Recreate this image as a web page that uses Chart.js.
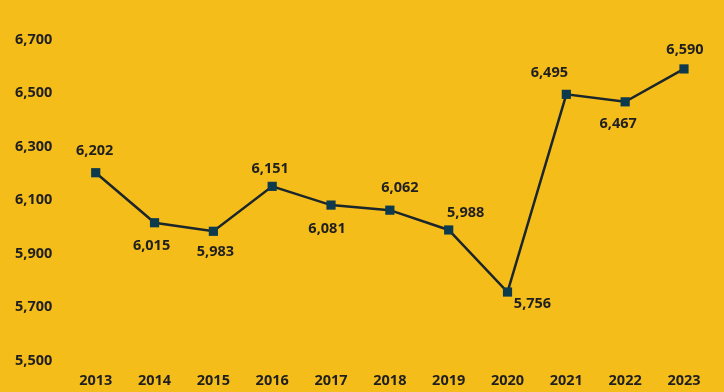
<!DOCTYPE html>
<html>
<head>
<meta charset="utf-8">
<script src="https://cdn.jsdelivr.net/npm/chart.js@4/dist/chart.umd.min.js"></script>
<style>
  html, body { margin: 0; padding: 0; background: #F5BD1A; }
  #wrap { width: 724px; height: 392px; position: relative; }
</style>
</head>
<body>
<div id="wrap"><canvas id="c" width="724" height="392"></canvas></div>
<script>
const years = ["2013","2014","2015","2016","2017","2018","2019","2020","2021","2022","2023"];
const values = [6202, 6015, 5983, 6151, 6081, 6062, 5988, 5756, 6495, 6467, 6590];
const yMin = 5500, yMax = 6700, yStep = 200;

// label offsets (styling only): [dx, dy] relative to the point
const labelOffsets = [[-1,-22],[-3,23],[2,21],[-2,-17],[-4,24],[10,-22],[17,-17],[25,12],[-17,-21],[-7,22],[1,-19]];

const FONT = "'Open Sans', 'DejaVu Sans', sans-serif";
const TEXT = '#1f1f1f';

const labelPlugin = {
  id: 'pointLabels',
  afterDatasetsDraw(chart) {
    const ctx = chart.ctx;
    const meta = chart.getDatasetMeta(0);
    ctx.save();
    ctx.font = "bold 14.5px " + FONT;
    ctx.fillStyle = TEXT;
    ctx.textAlign = 'center';
    ctx.textBaseline = 'middle';
    meta.data.forEach((pt, i) => {
      const v = chart.data.datasets[0].data[i];
      const o = labelOffsets[i];
      ctx.fillText(v.toLocaleString('en-US'), pt.x + o[0], pt.y + o[1]);
    });
    ctx.restore();
  }
};

new Chart(document.getElementById('c'), {
  type: 'line',
  data: {
    labels: years,
    datasets: [{
      data: values,
      borderColor: '#1A262C',
      borderWidth: 2.5,
      pointStyle: 'rect',
      pointRadius: 6.5,
      pointBackgroundColor: '#0E3A4D',
      pointBorderColor: '#0E3A4D',
      pointBorderWidth: 0,
      tension: 0,
      clip: false
    }]
  },
  options: {
    responsive: false,
    animation: false,
    events: [],
    layout: { padding: { top: 39.5, right: 10.6, bottom: 0, left: 0 } },
    plugins: { legend: { display: false }, tooltip: { enabled: false } },
    scales: {
      x: {
        type: 'category',
        offset: true,
        grid: { display: false, drawTicks: false },
        border: { display: false },
        ticks: { color: TEXT, font: { family: FONT, size: 14.5, weight: 'bold' }, padding: 12, maxRotation: 0 },
        afterFit(axis) { axis.height = 31.5; }
      },
      y: {
        min: yMin, max: yMax,
        grid: { display: false, drawTicks: false },
        border: { display: false },
        ticks: {
          stepSize: yStep,
          color: TEXT,
          padding: 14,
          font: { family: FONT, size: 14.5, weight: 'bold' },
          callback: v => v.toLocaleString('en-US')
        },
        afterFit(axis) { axis.width = 66.3; }
      }
    }
  },
  plugins: [labelPlugin]
});
</script>
</body>
</html>
